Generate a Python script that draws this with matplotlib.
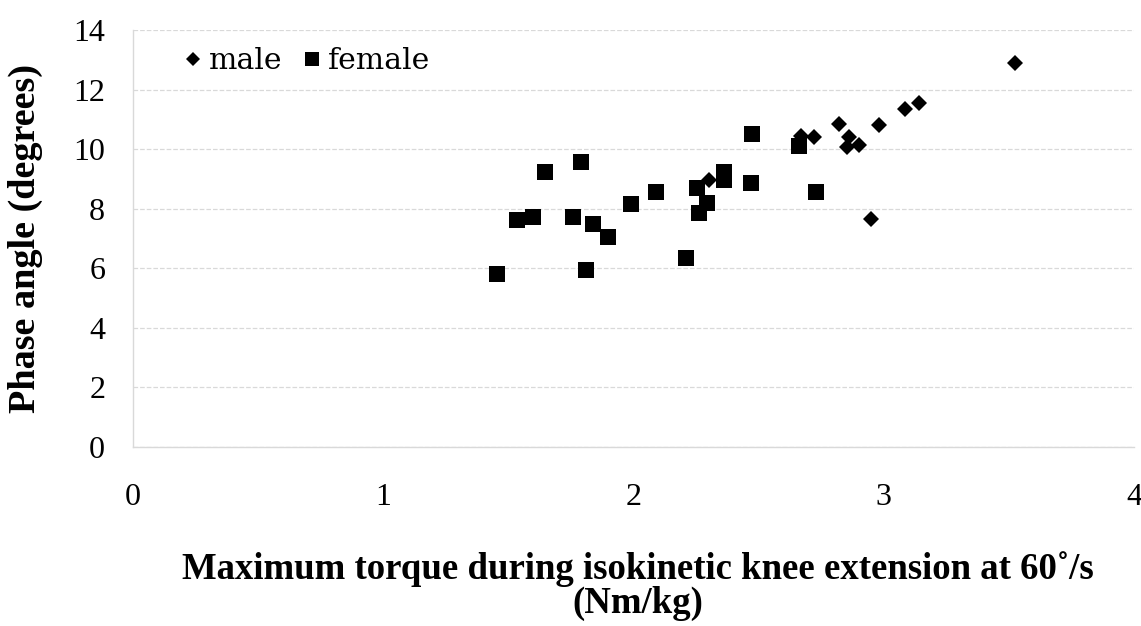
import numpy as np
import matplotlib.pyplot as plt

# torque (Nm/kg) vs phase angle (degrees)
male_x = [2.30, 2.67, 2.72, 2.82, 2.86, 2.855, 2.90, 2.98, 2.95, 3.085, 3.14, 3.525]
male_y = [8.95, 10.45, 10.40, 10.85, 10.40, 10.07, 10.15, 10.80, 7.65, 11.35, 11.55, 12.90]

female_x = [1.455, 1.535, 1.60, 1.645, 1.76, 1.79, 1.81, 1.84, 1.90, 1.99, 2.09,
            2.21, 2.255, 2.26, 2.295, 2.36, 2.36, 2.475, 2.47, 2.66, 2.73]
female_y = [5.80, 7.62, 7.72, 9.23, 7.72, 9.56, 5.94, 7.48, 7.05, 8.15, 8.56,
            6.34, 8.69, 7.85, 8.19, 9.23, 8.95, 10.50, 8.86, 10.10, 8.56]

plt.rcParams['font.family'] = ['Liberation Serif', 'DejaVu Serif']

W, H = 1141, 626
fig = plt.figure(figsize=(W / 100, H / 100), dpi=100)
ax = fig.add_axes([133 / W, 1 - 447 / H, 1001 / W, 417 / H])

ax.plot(male_x, male_y, 'D', color='black', markersize=8.3, markeredgewidth=0,
        label='male', zorder=3)
ax.plot(female_x, female_y, 's', color='black', markersize=12, markeredgewidth=0,
        label='female', zorder=3)

ax.set_xlim(0, 4)
ax.set_ylim(0, 14)
ax.set_xticks(np.arange(0, 5, 1))
ax.set_yticks(np.arange(0, 15, 2))
ax.tick_params(length=0, labelsize=23)
ax.tick_params(axis='y', pad=20)
ax.tick_params(axis='x', pad=26)
ax.grid(axis='y', color='#d9d9d9', linestyle='--', linewidth=0.9)
ax.set_axisbelow(True)
for s in ['top', 'right']:
    ax.spines[s].set_visible(False)
for s in ['left', 'bottom']:
    ax.spines[s].set_color('#d9d9d9')
    ax.spines[s].set_linewidth(1.0)

ax.set_xlabel('Maximum torque during isokinetic knee extension at 60\u02da/s\n(Nm/kg)',
              fontsize=26.5, fontweight='bold', linespacing=0.95)
ax.xaxis.set_label_coords(0.504, -0.25)
ax.set_ylabel('Phase angle (degrees)', fontsize=27.5, fontweight='bold')
ax.yaxis.set_label_coords(-0.09, 0.5)

ax.legend(loc='center left', frameon=False, ncol=2, handlelength=0.7,
          handletextpad=0.2, columnspacing=0.62, borderpad=0, borderaxespad=0,
          markerscale=0.85, prop={'family': 'DejaVu Serif', 'size': 21.5},
          bbox_to_anchor=(182.5 / W, 1 - 61 / H), bbox_transform=fig.transFigure)

fig.savefig('out.png', dpi=100)
